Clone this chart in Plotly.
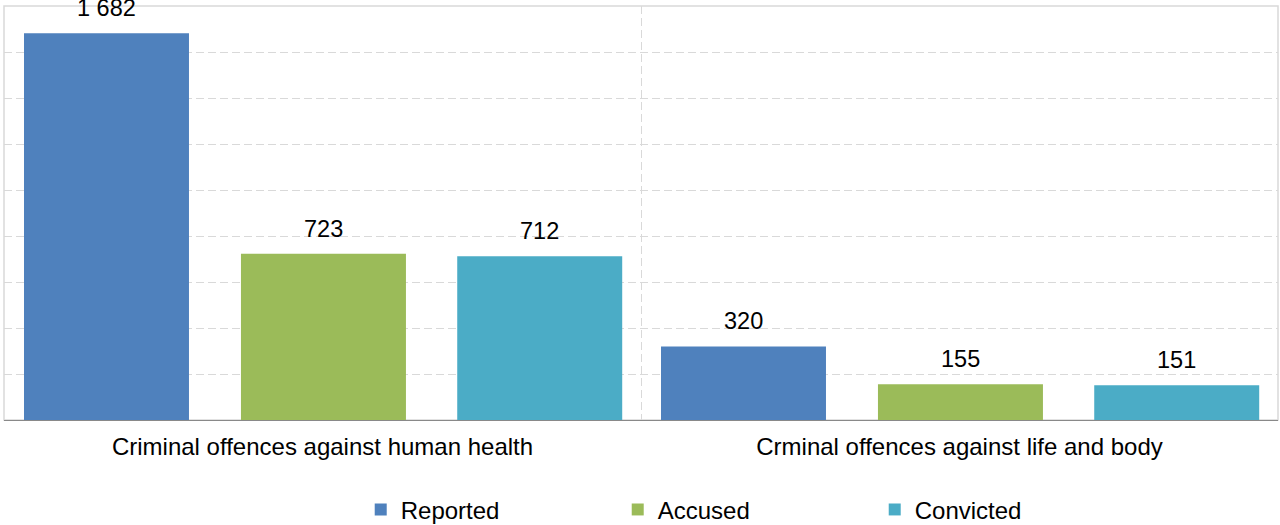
import plotly.graph_objects as go

categories = ["Criminal offences against human health", "Crminal offences against life and body"]
series_names = ["Reported", "Accused", "Convicted"]
reported = [1682, 320]
accused = [723, 155]
convicted = [712, 151]
y_ticks = [0, 200, 400, 600, 800, 1000, 1200, 1400, 1600, 1800]

colors = ["#4F81BD", "#9BBB59", "#4BACC6"]
series_values = [reported, accused, convicted]

bar_width = 0.259
offsets = [-0.4686, -0.128, 0.2115]
FONT = "Liberation Sans, Arial, sans-serif"

fig = go.Figure()
annotations = []
for name, vals, col, off in zip(series_names, series_values, colors, offsets):
    fig.add_trace(go.Bar(
        name=name, x=categories, y=vals,
        marker=dict(color=col, line=dict(width=0)),
        width=bar_width, offset=off, cliponaxis=False,
    ))
    for i, v in enumerate(vals):
        annotations.append(dict(
            x=i + off + bar_width / 2, y=v, xref="x", yref="y",
            text=f"{v:,}".replace(",", " "), showarrow=False,
            yanchor="bottom", xanchor="center", yshift=10,
            font=dict(family=FONT, size=23.5, color="#000000"),
        ))

fig.update_layout(
    width=1280, height=525,
    margin=dict(l=4, r=2, t=6, b=105, autoexpand=False),
    paper_bgcolor="white", plot_bgcolor="white",
    barmode="overlay",
    font=dict(family=FONT, size=24, color="#000000"),
    showlegend=True,
    legend=dict(
        orientation="h", x=0.280, xanchor="left", y=-0.217, yanchor="middle",
        font=dict(family=FONT, size=24, color="#000000"),
        entrywidth=212, entrywidthmode="pixels",
        bgcolor="rgba(0,0,0,0)",
    ),
    annotations=annotations,
    xaxis=dict(
        type="category", range=[-0.5, 1.5], automargin=False,
        showline=True, linecolor="#898989", linewidth=1,
        showgrid=True, gridcolor="#D9D9D9", griddash="8px,4px", gridwidth=1,
        tickson="boundaries", ticks="", ticklabelstandoff=5,
        tickfont=dict(family=FONT, size=24, color="#000000"),
    ),
    yaxis=dict(
        range=[0, 1800], tickvals=y_ticks, showticklabels=False, automargin=False,
        showgrid=True, gridcolor="#D9D9D9", griddash="8px,4px", gridwidth=1,
        zeroline=False, showline=False, ticks="",
    ),
    shapes=[dict(
        type="rect", xref="paper", yref="paper", x0=0, x1=1, y0=0, y1=1,
        line=dict(color="#D9D9D9", width=1.5), layer="below",
    )],
)

fig.write_html(
    "out.html",
    config={"displayModeBar": False},
    post_script="document.body.style.margin='0px';document.body.style.overflow='hidden';",
)
